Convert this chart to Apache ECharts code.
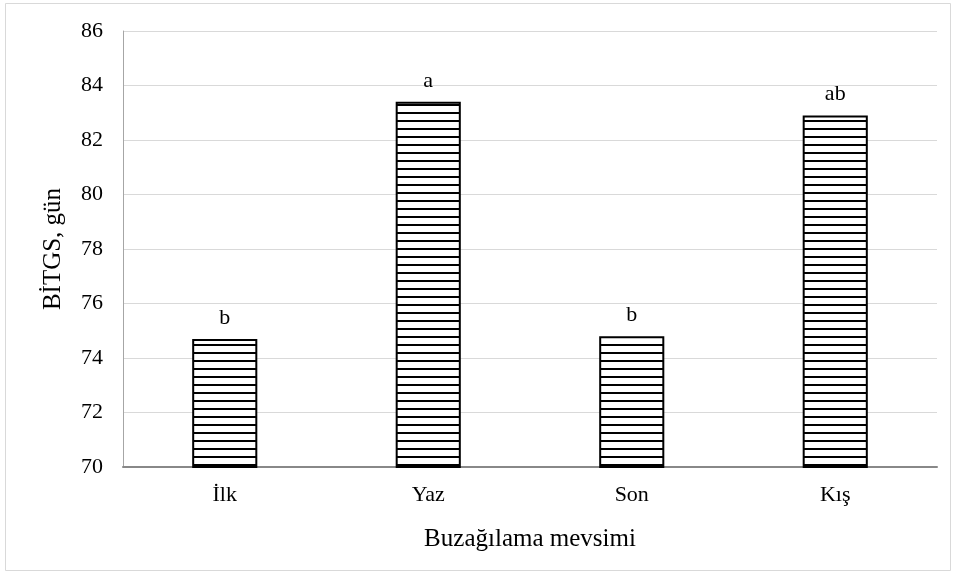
<!DOCTYPE html>
<html>
<head>
<meta charset="utf-8">
<script src="https://cdn.jsdelivr.net/npm/echarts@6/dist/echarts.min.js"></script>
<style>
html,body{margin:0;padding:0;background:#fff;}
#main{width:957px;height:578px;}
</style>
</head>
<body>
<div id="main"></div>
<script>
var categories = ['İlk', 'Yaz', 'Son', 'Kış'];
var values = [74.7, 83.4, 74.8, 82.9];
var letters = ['b', 'a', 'b', 'ab'];
var yMin = 70, yMax = 86, yStep = 2;

var FONT = "'Liberation Serif', 'Times New Roman', serif";

function stripePattern() {
  var c = document.createElement('canvas');
  c.width = 4; c.height = 8;
  var ctx = c.getContext('2d');
  ctx.fillStyle = '#ffffff';
  ctx.fillRect(0, 0, 4, 8);
  ctx.fillStyle = '#000000';
  ctx.fillRect(0, 0, 4, 2);
  return c;
}

var chart = echarts.init(document.getElementById('main'), null, {renderer: 'canvas'});
var option = {
  animation: false,
  backgroundColor: '#ffffff',
  graphic: [{
    type: 'rect',
    shape: {x: 5.5, y: 3.5, width: 945, height: 567},
    style: {fill: 'none', stroke: '#d9d9d9', lineWidth: 1},
    silent: true, z: -1
  }],
  grid: {left: 123, right: 20, top: 31, bottom: 111, containLabel: false},
  xAxis: {
    type: 'category',
    data: categories,
    name: 'Buzağılama mevsimi',
    nameLocation: 'middle',
    nameGap: 60,
    nameTextStyle: {fontFamily: FONT, fontSize: 25, color: '#000'},
    axisLine: {lineStyle: {color: '#888888', width: 2}},
    axisTick: {show: false},
    axisLabel: {fontFamily: FONT, fontSize: 22, color: '#000', margin: 17}
  },
  yAxis: {
    type: 'value',
    min: yMin, max: yMax, interval: yStep,
    name: 'BİTGS, gün',
    nameLocation: 'middle',
    nameGap: 57,
    nameRotate: 90,
    nameTextStyle: {fontFamily: FONT, fontSize: 25, color: '#000'},
    axisLine: {show: true, lineStyle: {color: '#a6a6a6', width: 1}},
    axisTick: {show: false},
    axisLabel: {fontFamily: FONT, fontSize: 22, color: '#000', margin: 20},
    splitLine: {lineStyle: {color: '#d9d9d9', width: 1}}
  },
  series: [{
    type: 'bar',
    data: values,
    barWidth: '32%',
    itemStyle: {
      color: {image: stripePattern(), repeat: 'repeat'},
      borderColor: '#000',
      borderWidth: 2
    },
    label: {
      show: true,
      position: 'top',
      distance: 10,
      fontFamily: FONT,
      fontSize: 22,
      color: '#000',
      formatter: function (p) { return letters[p.dataIndex]; }
    }
  }]
};
chart.setOption(option);
</script>
</body>
</html>
